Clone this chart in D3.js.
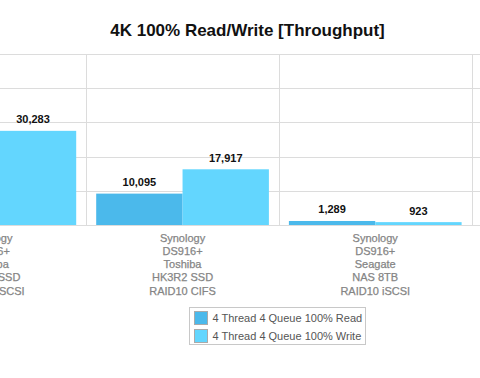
<!DOCTYPE html>
<html>
<head>
<meta charset="utf-8">
<script src="https://cdn.jsdelivr.net/npm/d3@7"></script>
<style>
  body { margin: 0; background: #fff; }
  text { font-family: "Liberation Sans", Helvetica, Arial, sans-serif; }
</style>
</head>
<body>
<div id="chart"></div>
<script>
const categories = [
  ["Synology", "DS916+", "Toshiba", "HK3R2 SSD", "RAID10 iSCSI"],
  ["Synology", "DS916+", "Toshiba", "HK3R2 SSD", "RAID10 CIFS"],
  ["Synology", "DS916+", "Seagate", "NAS 8TB", "RAID10 iSCSI"]
];
const seriesNames = ["4 Thread 4 Queue 100% Read", "4 Thread 4 Queue 100% Write"];
const readValues = [28700, 10095, 1289];
const writeValues = [30283, 17917, 923];
const yTicks = [0, 11000, 22000, 33000, 44000, 55000];

const colors = ["#4bb9eb", "#63d6fe"];
const width = 480, height = 378;
const plotTop = 54, plotBottom = 225;

const svg = d3.select("#chart")
  .append("svg")
  .attr("width", width)
  .attr("height", height);

const keys = categories.map(function (c, i) { return "c" + i; });

const x = d3.scaleBand()
  .domain(keys)
  .range([-106.5, 471.6]);

const xSub = d3.scaleBand()
  .domain([0, 1])
  .range([10, x.bandwidth() - 10]);

const y = d3.scaleLinear()
  .domain([0, 55000])
  .range([plotBottom, plotTop]);

// horizontal grid
svg.append("g")
  .selectAll("line")
  .data(yTicks)
  .join("line")
  .attr("x1", 0)
  .attr("x2", width)
  .attr("y1", function (d) { return Math.round(y(d)) + 0.5; })
  .attr("y2", function (d) { return Math.round(y(d)) + 0.5; })
  .attr("stroke", "#dcdcdc")
  .attr("stroke-width", 1);

// vertical grid at band boundaries
const bounds = keys.map(function (k) { return x(k); }).concat([x(keys[2]) + x.bandwidth()]);
svg.append("g")
  .selectAll("line")
  .data(bounds)
  .join("line")
  .attr("x1", function (d) { return Math.round(d) + 0.5; })
  .attr("x2", function (d) { return Math.round(d) + 0.5; })
  .attr("y1", plotTop)
  .attr("y2", plotBottom)
  .attr("stroke", "#dcdcdc")
  .attr("stroke-width", 1);

const rows = keys.map(function (k, i) {
  return { key: k, values: [readValues[i], writeValues[i]] };
});

const groups = svg.append("g")
  .selectAll("g")
  .data(rows)
  .join("g")
  .attr("transform", function (d) { return "translate(" + x(d.key) + ",0)"; });

groups.selectAll("rect")
  .data(function (d) { return d.values; })
  .join("rect")
  .attr("x", function (d, i) { return xSub(i); })
  .attr("y", function (d) { return y(d); })
  .attr("width", xSub.bandwidth())
  .attr("height", function (d) { return plotBottom - y(d); })
  .attr("fill", function (d, i) { return colors[i]; });

groups.selectAll(".val")
  .data(function (d) { return d.values; })
  .join("text")
  .attr("class", "val")
  .attr("x", function (d, i) { return xSub(i) + xSub.bandwidth() / 2; })
  .attr("y", function (d) { return y(d) - 7.5; })
  .attr("text-anchor", "middle")
  .style("font-size", "11px")
  .style("font-weight", "bold")
  .attr("fill", "#111")
  .text(function (d) { return d3.format(",")(d); });

// category labels
groups.append("text")
  .attr("text-anchor", "middle")
  .style("font-size", "11px")
  .attr("fill", "#858585")
  .attr("stroke", "#858585")
  .attr("stroke-width", 0.25)
  .selectAll("tspan")
  .data(function (d, i) { return categories[i]; })
  .join("tspan")
  .attr("x", x.bandwidth() / 2)
  .attr("y", function (d, i) { return 241.7 + i * 13.2; })
  .text(function (d) { return d; });

// title
svg.append("text")
  .attr("x", 247.5)
  .attr("y", 36)
  .attr("text-anchor", "middle")
  .style("font-size", "17px")
  .style("font-weight", "bold")
  .attr("fill", "#111")
  .text("4K 100% Read/Write [Throughput]");

// legend
const legend = svg.append("g");
legend.append("rect")
  .attr("x", 189.5)
  .attr("y", 307.5)
  .attr("width", 176)
  .attr("height", 37)
  .attr("fill", "#fff")
  .attr("stroke", "#c8c8c8");

const items = legend.selectAll(".item")
  .data(seriesNames)
  .join("g")
  .attr("class", "item")
  .attr("transform", function (d, i) { return "translate(194," + (311 + i * 18) + ")"; });

items.append("rect")
  .attr("x", 0.5)
  .attr("y", 0.5)
  .attr("width", 13)
  .attr("height", 13)
  .attr("fill", function (d, i) { return colors[i]; })
  .attr("stroke", "#aaa");

items.append("text")
  .attr("x", 18.5)
  .attr("y", 10.5)
  .style("font-size", "11px")
  .attr("fill", "#555")
  .text(function (d) { return d; });
</script>
</body>
</html>
